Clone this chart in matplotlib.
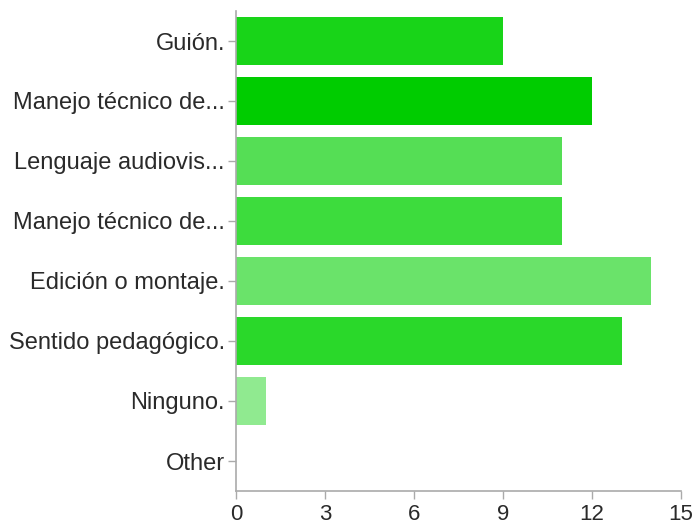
import matplotlib
matplotlib.use("Agg")
import matplotlib.pyplot as plt

categories = ["Guión.", "Manejo técnico de...", "Lenguaje audiovis...", "Manejo técnico de...",
              "Edición o montaje.", "Sentido pedagógico.", "Ninguno.", "Other"]
values = [9, 12, 11, 11, 14, 13, 1, 0]
colors = ["#18d418", "#00cc00", "#55de55", "#3ddc3d", "#6ae36a", "#2ad82a", "#90ea90", "#b0f0b0"]
xticks = [0, 3, 6, 9, 12, 15]

plt.rcParams['font.family'] = ['Liberation Sans', 'DejaVu Sans']
fig = plt.figure(figsize=(6.99, 5.29), dpi=100)
ax = fig.add_axes([236/699, 1-491/529, (681-236)/699, 480/529])
ypos = list(range(len(categories)))
ax.barh(ypos, values, height=0.8, color=colors, edgecolor="none")
ax.set_ylim(len(categories)-0.5, -0.5)
ax.set_xlim(0, 15)
ax.set_xticks(xticks)
ax.set_yticks(ypos)
ax.set_yticklabels(categories)
for s in ["top", "right"]:
    ax.spines[s].set_visible(False)
for s in ["left", "bottom"]:
    ax.spines[s].set_color("#aaaaaa")
    ax.spines[s].set_linewidth(1.2)
ax.tick_params(axis="both", colors="#aaaaaa", labelcolor="#2a2a2a", length=6, width=1)
ax.tick_params(axis="y", pad=2, labelsize=17)
ax.tick_params(axis="x", pad=3, labelsize=16)
fig.savefig("out.png", dpi=100)
